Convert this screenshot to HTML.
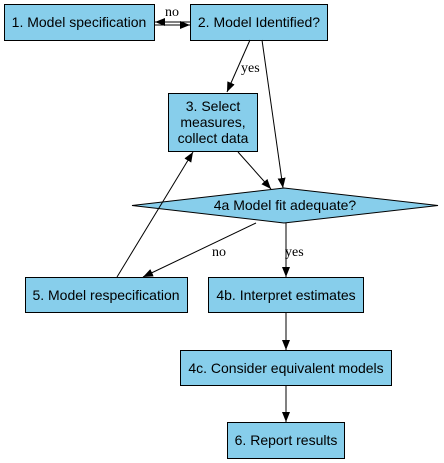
<!DOCTYPE html>
<html><head><style>body{margin:0;background:#fff}svg{display:block}</style></head><body>
<svg width="444" height="463" viewBox="0 0 444 463" xmlns="http://www.w3.org/2000/svg">
<defs><marker id="a" markerWidth="10" markerHeight="8" refX="10" refY="4" orient="auto" markerUnits="userSpaceOnUse"><path d="M0,0 L10,4 L0,8 z" fill="#000"/></marker></defs>
<g fill="#87ceeb" stroke="#000" stroke-width="1">
<rect x="4.5" y="4.5" width="150" height="36"/>
<rect x="190.5" y="4.5" width="137" height="36"/>
<rect x="168.5" y="93.5" width="89" height="58"/>
<polygon points="132,205.5 284,188 438,205.5 284,223"/>
<rect x="25.5" y="277.5" width="162" height="35"/>
<rect x="208.5" y="277.5" width="155" height="35"/>
<rect x="180.5" y="350.5" width="211" height="35"/>
<rect x="227.5" y="422.5" width="117" height="36"/>
</g>
<g stroke="#000" stroke-width="1" fill="none" marker-end="url(#a)">
<line x1="190" y1="22" x2="155" y2="22"/>
<line x1="155" y1="25" x2="190" y2="25"/>
<line x1="250" y1="40" x2="227" y2="92"/>
<line x1="262" y1="40" x2="283" y2="188"/>
<line x1="238" y1="152" x2="271" y2="189"/>
<line x1="256" y1="223" x2="143" y2="277"/>
<line x1="286" y1="223" x2="286" y2="277"/>
<line x1="117" y1="277" x2="193" y2="152"/>
<line x1="286" y1="313" x2="286" y2="350"/>
<line x1="286" y1="386" x2="286" y2="422"/>
</g>
<g font-family="Liberation Sans, sans-serif" font-size="14" text-anchor="middle" fill="#000">
<text x="79" y="27">1. Model specification</text>
<text x="259" y="27">2. Model Identified?</text>
<text x="213" y="111">3. Select</text>
<text x="213" y="127">measures,</text>
<text x="213" y="143">collect data</text>
<text x="285" y="210">4a Model fit adequate?</text>
<text x="106" y="300">5. Model respecification</text>
<text x="286" y="300">4b. Interpret estimates</text>
<text x="286" y="373">4c. Consider equivalent models</text>
<text x="286" y="445">6. Report results</text>
</g>
<g font-family="Liberation Serif, serif" font-size="14" fill="#000">
<text x="165" y="16">no</text>
<text x="241" y="72">yes</text>
<text x="212" y="256">no</text>
<text x="285" y="256">yes</text>
</g>
</svg>
</body></html>
